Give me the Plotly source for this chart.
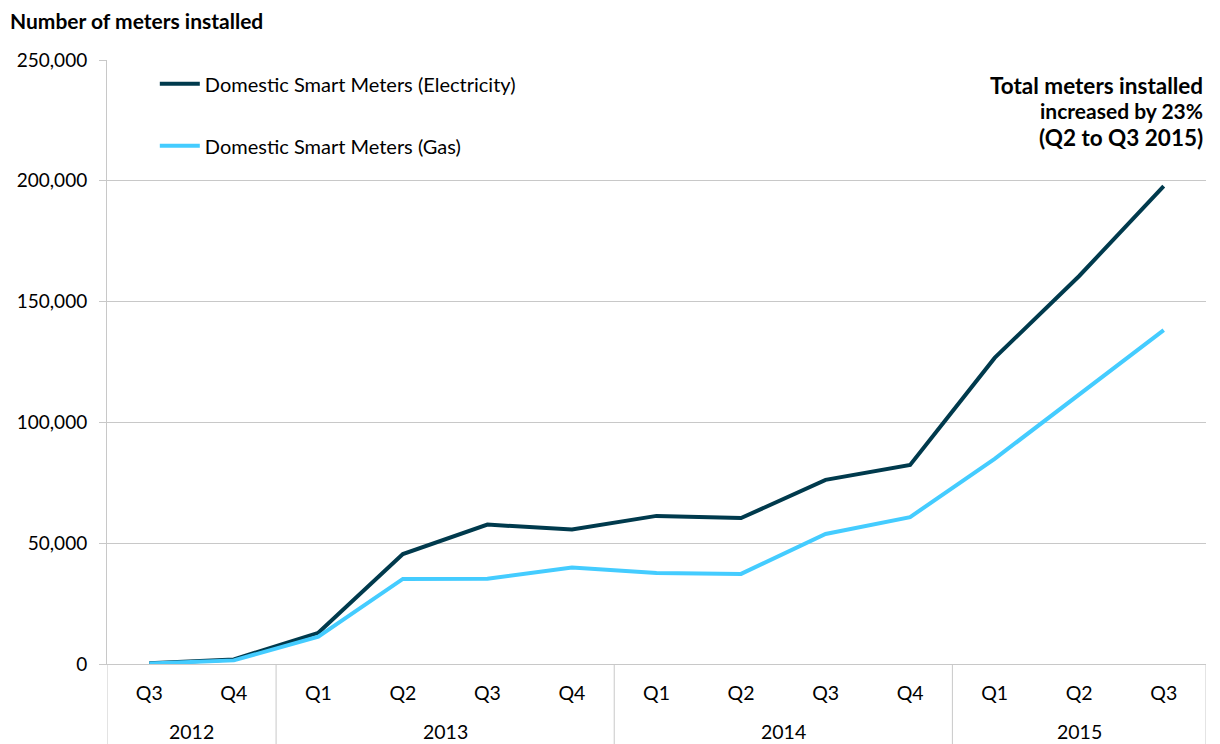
import plotly.graph_objects as go

# quarters on the axis, grouped by year
years = ["2012", "2012", "2013", "2013", "2013", "2013", "2014", "2014", "2014", "2014", "2015", "2015", "2015"]
quarters = ["Q3", "Q4", "Q1", "Q2", "Q3", "Q4", "Q1", "Q2", "Q3", "Q4", "Q1", "Q2", "Q3"]

# number of meters installed per quarter
electricity = [300, 1900, 12900, 45500, 57700, 55700, 61300, 60400, 76200, 82400, 126700, 160600, 197800]
gas = [200, 1500, 11300, 35200, 35300, 39900, 37700, 37300, 53800, 60800, 84900, 111800, 138200]

note_lines = ["Total meters installed", "increased by 23%", "(Q2 to Q3 2015)"]

dark = "#003A4D"
light = "#44CCFF"
grid = "#C8C8C8"
font_family = "Lato, 'Open Sans', sans-serif"

xpos = list(range(len(quarters)))

fig = go.Figure()
fig.add_trace(go.Scatter(x=xpos, y=electricity, mode="lines", name="Domestic Smart Meters (Electricity)",
                         line=dict(color=dark, width=4), legendgroup="e", cliponaxis=False))
fig.add_trace(go.Scatter(x=xpos, y=gas, mode="lines", name="Domestic Smart Meters (Gas)",
                         line=dict(color=light, width=4), legendgroup="g", cliponaxis=False))

# year group labels and dividers, built from the years list
annotations = []
shapes = []
groups = []
for i, yr in enumerate(years):
    if not groups or groups[-1][0] != yr:
        groups.append([yr, i, i])
    else:
        groups[-1][2] = i
for yr, start, end in groups:
    annotations.append(dict(text=yr, x=(start + end) / 2, y=-0.112, xref="x", yref="paper",
                            showarrow=False, yanchor="middle", font=dict(size=19.5)))
    shapes.append(dict(type="line", xref="x", yref="paper", x0=start - 0.5, x1=start - 0.5, y0=0, y1=-0.14,
                       line=dict(color=grid, width=1)))
shapes.append(dict(type="line", xref="x", yref="paper", x0=groups[-1][2] + 0.5, x1=groups[-1][2] + 0.5,
                   y0=0, y1=-0.14, line=dict(color=grid, width=1)))

annotations.append(dict(text="<b>Number of meters installed</b>", x=-0.09, y=1.066, xref="paper", yref="paper",
                        xanchor="left", yanchor="middle", showarrow=False, font=dict(size=21)))
for k, (txt, yy, sz) in enumerate(zip(note_lines, [0.9586, 0.9156, 0.8725], [22.5, 21, 22.5])):
    annotations.append(dict(text=f"<b>{txt}</b>", x=1.0, y=yy, xref="paper", yref="paper", xanchor="right",
                            yanchor="middle", xshift=-1, showarrow=False, font=dict(size=sz)))

# page body has an 8px margin, so the figure is sized and offset to compensate
fig.update_layout(
    width=1212, height=736,
    margin=dict(l=99, r=14, t=52, b=80),
    paper_bgcolor="white", plot_bgcolor="white",
    font=dict(family=font_family, size=19.5, color="black"),
    showlegend=True,
    legend=dict(x=0.0435, y=0.993, xanchor="left", yanchor="top", bgcolor="rgba(0,0,0,0)",
                tracegroupgap=33, itemwidth=40, font=dict(size=20)),
    annotations=annotations,
    shapes=shapes,
)

fig.update_xaxes(range=[-0.5, len(quarters) - 0.5], tickmode="array", tickvals=xpos, ticktext=quarters,
                 showgrid=False, showline=True, linecolor=grid, linewidth=1, zeroline=False,
                 ticks="outside", ticklen=12, tickcolor="rgba(0,0,0,0)", tickfont=dict(size=19.5), automargin=False)
fig.update_yaxes(range=[0, 250000], dtick=50000, tickformat=",d", showgrid=True, gridcolor=grid, gridwidth=1,
                 showline=True, linecolor=grid, linewidth=1, ticks="outside", ticklen=7, tickcolor=grid,
                 tickfont=dict(size=19), ticklabelstandoff=8, zeroline=False, automargin=False)

fig.write_html("out.html")
